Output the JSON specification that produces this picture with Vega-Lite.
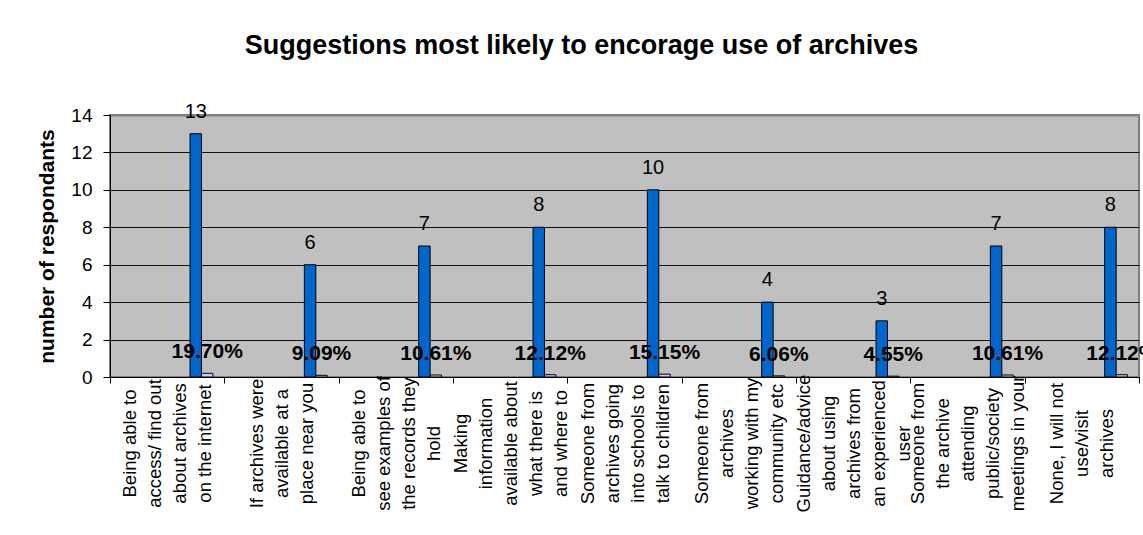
{
  "$schema": "https://vega.github.io/schema/vega-lite/v6.json",
  "autosize": {"type": "none"},
  "width": 1029,
  "height": 262,
  "padding": {"left": 110, "top": 115, "right": 4, "bottom": 158},
  "background": "white",
  "title": {
    "text": "Suggestions most likely to encorage use of archives",
    "font": "Liberation Sans",
    "fontSize": 27,
    "fontWeight": "bold",
    "color": "black",
    "anchor": "middle",
    "frame": "group",
    "dx": -43,
    "offset": 42
  },
  "data": {
    "values": [
      {"suggestion": "Being able to|access/ find out|about archives|on the internet", "series": "count", "value": 13, "text": "13"},
      {"suggestion": "Being able to|access/ find out|about archives|on the internet", "series": "pct", "value": 0.197, "text": "19.70%"},
      {"suggestion": "If archives were|available at a|place near you", "series": "count", "value": 6, "text": "6"},
      {"suggestion": "If archives were|available at a|place near you", "series": "pct", "value": 0.0909, "text": "9.09%"},
      {"suggestion": "Being able to|see examples of|the records they|hold", "series": "count", "value": 7, "text": "7"},
      {"suggestion": "Being able to|see examples of|the records they|hold", "series": "pct", "value": 0.1061, "text": "10.61%"},
      {"suggestion": "Making|information|available about|what there is|and where to", "series": "count", "value": 8, "text": "8"},
      {"suggestion": "Making|information|available about|what there is|and where to", "series": "pct", "value": 0.1212, "text": "12.12%"},
      {"suggestion": "Someone from|archives going|into schools to|talk to children", "series": "count", "value": 10, "text": "10"},
      {"suggestion": "Someone from|archives going|into schools to|talk to children", "series": "pct", "value": 0.1515, "text": "15.15%"},
      {"suggestion": "Someone from|archives|working with my|community etc", "series": "count", "value": 4, "text": "4"},
      {"suggestion": "Someone from|archives|working with my|community etc", "series": "pct", "value": 0.0606, "text": "6.06%"},
      {"suggestion": "Guidance/advice|about using|archives from|an experienced|user", "series": "count", "value": 3, "text": "3"},
      {"suggestion": "Guidance/advice|about using|archives from|an experienced|user", "series": "pct", "value": 0.0455, "text": "4.55%"},
      {"suggestion": "Someone from|the archive|attending|public/society|meetings in your", "series": "count", "value": 7, "text": "7"},
      {"suggestion": "Someone from|the archive|attending|public/society|meetings in your", "series": "pct", "value": 0.1061, "text": "10.61%"},
      {"suggestion": "None, I will not|use/visit|archives", "series": "count", "value": 8, "text": "8"},
      {"suggestion": "None, I will not|use/visit|archives", "series": "pct", "value": 0.1212, "text": "12.12%"}
    ]
  },
  "encoding": {
    "x": {
      "field": "suggestion",
      "type": "nominal",
      "sort": null,
      "scale": {"paddingInner": 0, "paddingOuter": 0},
      "axis": {
        "title": null,
        "labelExpr": "split(datum.label, '|')",
        "labelAngle": -90,
        "labelAlign": "center",
        "labelBaseline": "middle",
        "labelPadding": 60,
        "labelOffset": {
          "condition": [
            {"test": "length(split(datum.value, '|')) == 3", "value": -25},
            {"test": "length(split(datum.value, '|')) == 5", "value": -50}
          ],
          "value": -37.5
        },
        "labelFont": "Liberation Sans",
        "labelFontSize": 18.5,
        "labelLineHeight": 25,
        "labelColor": "black",
        "labelOverlap": false,
        "labelLimit": 0,
        "tickBand": "extent",
        "tickSize": 6,
        "tickColor": "black",
        "domainColor": "black",
        "domainWidth": 1,
        "grid": false
      }
    },
    "xOffset": {
      "field": "series",
      "type": "nominal",
      "scale": {"domain": ["s0", "s1", "s2", "s3", "s4", "s5", "s6", "count", "pct", "s9"], "paddingInner": 0, "paddingOuter": 0}
    },
    "y": {
      "field": "value",
      "type": "quantitative",
      "scale": {"domain": [0, 14], "nice": false},
      "axis": {
        "title": "number of respondants",
        "titleFont": "Liberation Sans",
        "titleFontSize": 21,
        "titleFontWeight": "bold",
        "titleColor": "black",
        "titlePadding": 13,
        "values": [0, 2, 4, 6, 8, 10, 12, 14],
        "labelFont": "Liberation Sans",
        "labelFontSize": 19,
        "labelColor": "black",
        "labelPadding": 11,
        "tickSize": 7,
        "tickColor": "black",
        "domainColor": "black",
        "grid": true,
        "gridColor": {"condition": {"test": "datum.value == 14", "value": "#808080"}, "value": "#111111"},
        "gridWidth": {"condition": {"test": "datum.value == 14", "value": 2}, "value": 1}
      }
    }
  },
  "layer": [
    {
      "mark": {"type": "bar", "stroke": "black", "strokeWidth": 1},
      "encoding": {
        "color": {
          "field": "series",
          "type": "nominal",
          "scale": {"domain": ["count", "pct"], "range": ["#0066cc", "#ccccff"]},
          "legend": null
        }
      }
    },
    {
      "transform": [{"filter": "datum.series == 'count'"}],
      "mark": {"type": "text", "font": "Liberation Sans", "fontSize": 20, "color": "black", "baseline": "middle", "dy": -22},
      "encoding": {"text": {"field": "text", "type": "nominal"}}
    },
    {
      "transform": [{"filter": "datum.series == 'pct'"}],
      "mark": {"type": "text", "font": "Liberation Sans", "fontSize": 21, "fontWeight": "bold", "color": "black", "baseline": "middle", "dy": -21},
      "encoding": {"text": {"field": "text", "type": "nominal"}}
    }
  ],
  "config": {
    "view": {"fill": "#c0c0c0", "stroke": "#808080", "strokeWidth": 2},
    "axis": {"zindex": 0}
  }
}
